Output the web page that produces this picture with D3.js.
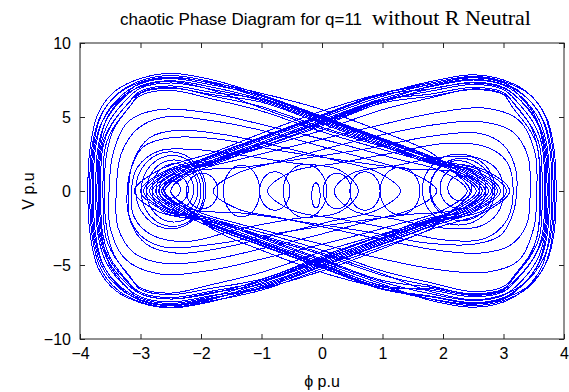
<!DOCTYPE html>
<html>
<head>
<meta charset="utf-8">
<script src="https://cdn.jsdelivr.net/npm/d3@7"></script>
<style>
  body { margin: 0; background: #fff; }
  text { fill: #000; }
</style>
</head>
<body>
<svg id="chart" width="569" height="392"></svg>
<script>
// tick values
const xTicks = [-4, -3, -2, -1, 0, 1, 2, 3, 4];
const yTicks = [-10, -5, 0, 5, 10];

// big loops round the left lobe, closing round the right well  [phi, V]
const leftOuter = [
  [[2.75,0],[2.35,-1.35],[1.8,-2.35],[1,-3.55],[0,-5.05],[-1,-6.5],[-1.8,-7.45],[-2.5,-7.9],[-3.0,-7.55],[-3.42,-6.7],[-3.7,-5.2],[-3.83,-3],[-3.87,0],[-3.83,3],[-3.7,5.25],[-3.42,6.75],[-3.0,7.6],[-2.5,7.95],[-1.8,7.5],[-1,6.5],[0,5.05],[1,3.55],[1.8,2.35],[2.35,1.35]],
  [[2.85,0],[2.45,-1.35],[1.8,-2.25],[1,-3.45],[0,-4.95],[-1,-6.4],[-1.8,-7.25],[-2.5,-7.7],[-3.0,-7.35],[-3.37,-6.5],[-3.65,-5.0],[-3.78,-3],[-3.82,0],[-3.78,3],[-3.65,5.1],[-3.37,6.6],[-3.0,7.45],[-2.5,7.8],[-1.8,7.35],[-1,6.4],[0,4.95],[1,3.45],[1.8,2.25],[2.45,1.35]],
  [[2.65,0],[2.25,-1.35],[1.8,-2.05],[1,-3.25],[0,-4.75],[-1,-6.2],[-1.8,-7.3],[-2.5,-7.75],[-3.0,-7.4],[-3.33,-6.55],[-3.61,-5.05],[-3.74,-3],[-3.78,0],[-3.74,3],[-3.61,4.9],[-3.33,6.4],[-3.0,7.25],[-2.5,7.6],[-1.8,7.15],[-1,6.45],[0,5.0],[1,3.5],[1.8,2.3],[2.25,1.35]],
  [[2.95,0],[2.55,-1.35],[1.8,-2.4],[1,-3.6],[0,-5.1],[-1,-6.55],[-1.8,-7.05],[-2.5,-7.5],[-3.0,-7.15],[-3.29,-6.3],[-3.57,-4.8],[-3.7,-3],[-3.74,0],[-3.7,3],[-3.57,4.75],[-3.29,6.25],[-3.0,7.1],[-2.5,7.45],[-1.8,7.0],[-1,6.2],[0,4.75],[1,3.25],[1.8,2.05],[2.55,1.35]],
  [[2.7,0],[2.3,-1.35],[1.8,-1.95],[1,-3.15],[0,-4.65],[-1,-6.1],[-1.8,-6.75],[-2.5,-7.2],[-3.0,-6.85],[-3.25,-6.0],[-3.53,-4.5],[-3.66,-3],[-3.7,0],[-3.66,3],[-3.53,4.6],[-3.25,6.1],[-3.0,6.95],[-2.5,7.3],[-1.8,6.85],[-1,6.1],[0,4.65],[1,3.15],[1.8,1.95],[2.3,1.35]],
  [[3.05,0],[2.65,-1.35],[1.8,-2.15],[1,-3.35],[0,-4.85],[-1,-6.3],[-1.8,-6.85],[-2.5,-7.3],[-3.0,-6.95],[-3.21,-6.1],[-3.49,-4.6],[-3.62,-3],[-3.66,0],[-3.62,3],[-3.49,4.4],[-3.21,5.9],[-3.0,6.75],[-2.5,7.1],[-1.8,6.65],[-1,6.2],[0,4.9],[1,3.4],[1.8,2.2],[2.65,1.35]],
  [[2.8,0],[2.4,-1.35],[1.8,-1.8],[1,-3.0],[0,-4.5],[-1,-5.95],[-1.8,-6.55],[-2.5,-7.0],[-3.0,-6.65],[-3.17,-5.8],[-3.45,-4.3],[-3.58,-3],[-3.62,0],[-3.58,3],[-3.45,4.25],[-3.17,5.75],[-3.0,6.6],[-2.5,6.95],[-1.8,6.5],[-1,6.0],[0,4.55],[1,3.05],[1.8,1.85],[2.4,1.35]],
  [[2.55,0],[2.15,-1.35],[1.8,-2.55],[1,-3.75],[0,-5.25],[-1,-6.7],[-1.8,-7.4],[-2.5,-7.85],[-3.0,-7.5],[-3.39,-6.65],[-3.67,-5.15],[-3.8,-3],[-3.84,0],[-3.8,3],[-3.67,5.0],[-3.39,6.5],[-3.0,7.35],[-2.5,7.7],[-1.8,7.25],[-1,6.3],[0,4.85],[1,3.35],[1.8,2.15],[2.15,1.35]],
  [[2.6,0],[2.2,-1.3],[1.8,-1.9],[1,-2.9],[0,-4.1],[-1,-5.5],[-1.8,-6.3],[-2.5,-6.9],[-3.0,-6.55],[-3.2,-5.7],[-3.45,-4.2],[-3.56,-2.5],[-3.6,0],[-3.56,2.5],[-3.45,4.1],[-3.2,5.6],[-3.0,6.45],[-2.5,6.8],[-1.8,6.2],[-1,5.4],[0,4.0],[1,2.8],[1.8,1.9],[2.2,1.3]],
  [[2.9,0],[2.5,-1.35],[1.8,-2.1],[1,-3.2],[0,-4.6],[-1,-6.1],[-1.8,-7.1],[-2.5,-7.6],[-3.0,-7.25],[-3.35,-6.4],[-3.63,-4.9],[-3.76,-3],[-3.8,0],[-3.76,3],[-3.63,4.7],[-3.35,6.2],[-3.0,7.05],[-2.5,7.4],[-1.8,6.8],[-1,5.6],[0,4.2],[1,3.0],[1.8,2.0],[2.5,1.35]],
  [[2.45,0],[2.15,-1.3],[1.8,-2.0],[1,-3.0],[0,-4.4],[-1,-6.0],[-1.8,-6.9],[-2.5,-7.3],[-3.0,-6.95],[-3.27,-6.1],[-3.55,-4.6],[-3.68,-3],[-3.72,0],[-3.68,3],[-3.55,4.95],[-3.27,6.45],[-3.0,7.3],[-2.5,7.65],[-1.8,7.3],[-1,6.6],[0,5.5],[1,4.0],[1.8,2.6],[2.15,1.4]],
  [[3.1,0],[2.7,-1.4],[1.8,-2.6],[1,-3.9],[0,-5.4],[-1,-6.6],[-1.8,-7.2],[-2.5,-7.7],[-3.0,-7.35],[-3.23,-6.5],[-3.51,-5.0],[-3.64,-3],[-3.68,0],[-3.64,3],[-3.51,4.3],[-3.23,5.8],[-3.0,6.65],[-2.5,7.0],[-1.8,6.4],[-1,5.7],[0,4.3],[1,3.1],[1.8,2.1],[2.7,1.4]]
];

// big loops round the right lobe, closing round the left well
const rightOuter = [
  [[-2.3,1.35],[-1.8,2.4],[-1,3.6],[0,5.1],[1,6.55],[1.8,7.4],[2.5,7.85],[3.0,7.5],[3.4,6.65],[3.68,5.15],[3.81,3],[3.85,0],[3.81,-3],[3.68,-5.05],[3.4,-6.55],[3.0,-7.4],[2.5,-7.75],[1.8,-7.3],[1,-6.45],[0,-5.0],[-1,-3.5],[-1.8,-2.3],[-2.3,-1.35],[-2.7,0]],
  [[-2.5,1.35],[-1.8,2.25],[-1,3.45],[0,4.95],[1,6.4],[1.8,7.2],[2.5,7.65],[3.0,7.3],[3.35,6.45],[3.63,4.95],[3.76,3],[3.8,0],[3.76,-3],[3.63,-5.15],[3.35,-6.65],[3.0,-7.5],[2.5,-7.85],[1.8,-7.4],[1,-6.3],[0,-4.85],[-1,-3.35],[-1.8,-2.15],[-2.5,-1.35],[-2.9,0]],
  [[-2.2,1.35],[-1.8,2.1],[-1,3.3],[0,4.8],[1,6.25],[1.8,7.05],[2.5,7.5],[3.0,7.15],[3.31,6.3],[3.59,4.8],[3.72,3],[3.76,0],[3.72,-3],[3.59,-4.85],[3.31,-6.35],[3.0,-7.2],[2.5,-7.55],[1.8,-7.1],[1,-6.6],[0,-5.15],[-1,-3.65],[-1.8,-2.45],[-2.2,-1.35],[-2.6,0]],
  [[-2.6,1.35],[-1.8,2.35],[-1,3.55],[0,5.05],[1,6.5],[1.8,6.9],[2.5,7.35],[3.0,7.0],[3.27,6.15],[3.55,4.65],[3.68,3],[3.72,0],[3.68,-3],[3.55,-4.7],[3.27,-6.2],[3.0,-7.05],[2.5,-7.4],[1.8,-6.95],[1,-6.15],[0,-4.7],[-1,-3.2],[-1.8,-2.0],[-2.6,-1.35],[-3.0,0]],
  [[-2.35,1.35],[-1.8,1.95],[-1,3.15],[0,4.65],[1,6.1],[1.8,6.75],[2.5,7.2],[3.0,6.85],[3.23,6.0],[3.51,4.5],[3.64,3],[3.68,0],[3.64,-3],[3.51,-4.45],[3.23,-5.95],[3.0,-6.8],[2.5,-7.15],[1.8,-6.7],[1,-6.4],[0,-4.95],[-1,-3.45],[-1.8,-2.25],[-2.35,-1.35],[-2.75,0]],
  [[-2.45,1.35],[-1.8,2.0],[-1,3.2],[0,4.7],[1,6.15],[1.8,6.55],[2.5,7.0],[3.0,6.65],[3.19,5.8],[3.47,4.3],[3.6,3],[3.64,0],[3.6,-3],[3.47,-4.25],[3.19,-5.75],[3.0,-6.6],[2.5,-6.95],[1.8,-6.5],[1,-6.05],[0,-4.6],[-1,-3.1],[-1.8,-1.9],[-2.45,-1.35],[-2.85,0]],
  [[-2.25,1.35],[-1.8,1.8],[-1,3.0],[0,4.5],[1,5.95],[1.8,6.4],[2.5,6.85],[3.0,6.5],[3.15,5.65],[3.43,4.15],[3.56,3],[3.6,0],[3.56,-3],[3.43,-4.35],[3.15,-5.85],[3.0,-6.7],[2.5,-7.05],[1.8,-6.6],[1,-6.5],[0,-5.05],[-1,-3.55],[-1.8,-2.35],[-2.25,-1.35],[-2.65,0]],
  [[-2.4,1.35],[-1.8,2.45],[-1,3.65],[0,5.15],[1,6.6],[1.8,7.3],[2.5,7.75],[3.0,7.4],[3.42,6.55],[3.7,5.05],[3.83,3],[3.87,0],[3.83,-3],[3.7,-4.9],[3.42,-6.4],[3.0,-7.25],[2.5,-7.6],[1.8,-7.15],[1,-6.65],[0,-5.2],[-1,-3.7],[-1.8,-2.5],[-2.4,-1.35],[-2.8,0]],
  [[-2.2,1.3],[-1.8,1.9],[-1,2.9],[0,4.1],[1,5.5],[1.8,6.3],[2.5,6.9],[3.0,6.55],[3.22,5.7],[3.47,4.2],[3.58,2.5],[3.62,0],[3.58,-2.5],[3.47,-4.1],[3.22,-5.6],[3.0,-6.45],[2.5,-6.8],[1.8,-6.2],[1,-5.4],[0,-4.0],[-1,-2.8],[-1.8,-1.9],[-2.2,-1.3],[-2.6,0]],
  [[-2.55,1.35],[-1.8,2.1],[-1,3.2],[0,4.6],[1,6.1],[1.8,7.1],[2.5,7.55],[3.0,7.2],[3.37,6.35],[3.65,4.85],[3.78,3],[3.82,0],[3.78,-3],[3.65,-4.65],[3.37,-6.15],[3.0,-7.0],[2.5,-7.35],[1.8,-6.8],[1,-5.6],[0,-4.2],[-1,-3.0],[-1.8,-2.0],[-2.55,-1.35],[-2.95,0]],
  [[-2.15,1.4],[-1.8,2.0],[-1,3.0],[0,4.4],[1,6.0],[1.8,6.9],[2.5,7.3],[3.0,6.95],[3.29,6.1],[3.57,4.6],[3.7,3],[3.74,0],[3.7,-3],[3.57,-4.95],[3.29,-6.45],[3.0,-7.3],[2.5,-7.65],[1.8,-7.3],[1,-6.6],[0,-5.5],[-1,-4.0],[-1.8,-2.6],[-2.15,-1.4],[-2.5,0]],
  [[-2.7,1.4],[-1.8,2.6],[-1,3.9],[0,5.4],[1,6.6],[1.8,7.2],[2.5,7.7],[3.0,7.35],[3.25,6.5],[3.53,5.0],[3.66,3],[3.7,0],[3.66,-3],[3.53,-4.3],[3.25,-5.8],[3.0,-6.65],[2.5,-7.0],[1.8,-6.4],[1,-5.7],[0,-4.3],[-1,-3.1],[-1.8,-2.1],[-2.7,-1.4],[-3.1,0]]
];

// middle-sized loops
const leftInner = [
  [[1.9,0],[1.5,-1.2],[0.8,-2.0],[0,-2.9],[-1,-3.9],[-1.9,-4.7],[-2.6,-4.9],[-3.1,-4.2],[-3.37,-2.5],[-3.4,0],[-3.32,2.5],[-3.05,4.2],[-2.6,5.0],[-1.9,4.8],[-1,4.1],[0,3.0],[0.8,2.1],[1.5,1.2]],
  [[1.3,0],[0.9,-1.3],[0.2,-2.0],[-0.7,-2.9],[-1.6,-3.8],[-2.4,-4.2],[-2.9,-3.6],[-3.17,-2],[-3.2,0],[-3.12,2],[-2.85,3.6],[-2.4,4.1],[-1.6,3.8],[-0.7,3.0],[0.2,2.1],[0.9,1.3]],
  [[0.6,0],[0.3,-1.4],[-0.5,-1.9],[-1.4,-2.6],[-2.2,-3.4],[-2.8,-3.0],[-3.1,-1.8],[-3.15,0],[-3.05,1.6],[-2.7,2.7],[-2.1,2.8],[-1.3,2.4],[-0.5,1.9],[0.3,1.4]],
  [[2.4,0],[2.0,-1.3],[1.2,-2.3],[0.2,-3.4],[-0.9,-4.5],[-1.9,-5.4],[-2.7,-5.6],[-3.25,-4.6],[-3.5,-2.5],[-3.52,0],[-3.45,2.6],[-3.2,4.7],[-2.7,5.5],[-1.9,5.3],[-0.9,4.4],[0.2,3.3],[1.2,2.2],[2.0,1.3]],
  [[2.7,0],[2.3,-1.2],[1.4,-1.6],[0.3,-2.2],[-0.8,-2.9],[-1.8,-3.6],[-2.6,-3.8],[-3.0,-3.0],[-3.2,-1.5],[-3.22,0],[-3.15,1.6],[-2.95,3.0],[-2.5,3.6],[-1.7,3.5],[-0.8,2.8],[0.3,2.1],[1.4,1.5],[2.3,1.2]]
];
const rightInner = [
  [[-1.4,1.2],[-0.7,2.0],[0.1,2.9],[1.0,3.8],[1.9,4.5],[2.6,4.7],[3.15,4.0],[3.4,2.4],[3.44,0],[3.38,-2.3],[3.1,-3.7],[2.6,-4.2],[1.9,-4.0],[1.0,-3.3],[0.1,-2.5],[-0.7,-1.8],[-1.4,-1.2],[-1.8,0]],
  [[-0.5,1.3],[0.3,1.9],[1.2,2.6],[2.0,3.2],[2.7,3.0],[3.05,2.0],[3.16,0],[3.05,-2.0],[2.7,-3.2],[2.0,-3.3],[1.2,-2.6],[0.3,-1.9],[-0.5,-1.3],[-0.9,0]],
  [[0.5,1.2],[1.2,1.7],[2.0,2.3],[2.6,2.2],[2.9,1.4],[3.0,0],[2.9,-1.5],[2.6,-2.4],[2.0,-2.5],[1.2,-1.9],[0.5,-1.3],[0.2,0]],
  [[-2.1,1.3],[-1.3,2.2],[-0.2,3.3],[0.9,4.4],[1.9,5.3],[2.7,5.6],[3.25,4.8],[3.52,2.6],[3.55,0],[3.5,-2.5],[3.25,-4.7],[2.7,-5.5],[1.9,-5.3],[0.9,-4.5],[-0.2,-3.4],[-1.3,-2.3],[-2.1,-1.3],[-2.5,0]],
  [[-2.2,1.25],[-1.3,1.6],[-0.3,2.2],[0.8,2.9],[1.8,3.7],[2.6,3.9],[3.0,3.1],[3.2,1.5],[3.22,0],[3.15,-1.6],[2.95,-3.0],[2.5,-3.6],[1.7,-3.5],[0.8,-2.8],[-0.3,-2.1],[-1.3,-1.5],[-2.2,-1.2],[-2.65,0]]
];

// small turns round the two wells and along the centre line: centre and half widths
const wellLoops = [
  {cx: -2.48, cy: 0.1, rx: 0.14, ry: 0.58},
  {cx: -2.45, cy: 0.1, rx: 0.24, ry: 1.0},
  {cx: -2.43, cy: 0.1, rx: 0.31, ry: 1.4},
  {cx: -2.43, cy: 0.1, rx: 0.38, ry: 1.75},
  {cx: -2.45, cy: 0.0, rx: 0.45, ry: 2.1},
  {cx: -2.47, cy: 0.0, rx: 0.52, ry: 2.4},
  {cx: -2.5, cy: 0.05, rx: 0.58, ry: 2.6},
  {cx: 2.28, cy: 0.2, rx: 0.2, ry: 0.85},
  {cx: 2.28, cy: 0.2, rx: 0.33, ry: 1.4},
  {cx: 2.25, cy: 0.15, rx: 0.46, ry: 1.9},
  {cx: 2.3, cy: 0.1, rx: 0.52, ry: 2.1},
  {cx: 2.26, cy: 0.1, rx: 0.6, ry: 2.4}
];
const centreLoops = [
  {cx: -1.98, cy: 0.0, rx: 0.26, ry: 1.2},
  {cx: -1.33, cy: 0.0, rx: 0.3, ry: 1.75},
  {cx: -0.78, cy: 0.0, rx: 0.25, ry: 1.3},
  {cx: -0.28, cy: 0.0, rx: 0.36, ry: 1.8},
  {cx: -0.1, cy: -0.3, rx: 0.07, ry: 0.85},
  {cx: 0.25, cy: 0.0, rx: 0.23, ry: 1.2},
  {cx: 0.71, cy: 0.0, rx: 0.25, ry: 1.3},
  {cx: 1.29, cy: 0.0, rx: 0.33, ry: 1.6}
];

const svg = d3.select('#chart');
const plotLeft = 80, plotRight = 564, plotTop = 43, plotBottom = 339;

const x = d3.scaleLinear().domain([-4, 4]).range([plotLeft, plotRight]);
const y = d3.scaleLinear().domain([-10, 10]).range([plotBottom, plotTop]);

svg.append('defs').append('clipPath').attr('id', 'plot')
  .append('rect')
  .attr('x', plotLeft).attr('y', plotTop)
  .attr('width', plotRight - plotLeft).attr('height', plotBottom - plotTop);

// matlab draws the trace without smoothing, so keep the edges hard
const plot = svg.append('g')
  .attr('clip-path', 'url(#plot)')
  .attr('shape-rendering', 'crispEdges');

const line = d3.line()
  .x(d => x(d[0]))
  .y(d => y(d[1]))
  .curve(d3.curveCatmullRomClosed.alpha(0.5));

const loops = leftOuter.concat(rightOuter, leftInner, rightInner);

plot.selectAll('path.loop')
  .data(loops).enter()
  .append('path')
  .attr('class', 'loop')
  .attr('d', line)
  .attr('fill', 'none')
  .attr('stroke', '#0000ff')
  .attr('stroke-width', 1);

plot.selectAll('ellipse.turn')
  .data(wellLoops.concat(centreLoops)).enter()
  .append('ellipse')
  .attr('class', 'turn')
  .attr('cx', d => x(d.cx))
  .attr('cy', d => y(d.cy))
  .attr('rx', d => x(d.cx + d.rx) - x(d.cx))
  .attr('ry', d => y(d.cy) - y(d.cy + d.ry))
  .attr('fill', 'none')
  .attr('stroke', '#0000ff')
  .attr('stroke-width', 1);

// box with inward ticks on all four sides
const font = '"Liberation Sans", Arial, sans-serif';

function styleAxis(g) {
  g.select('.domain').remove();
  g.selectAll('.tick line').attr('stroke', '#222');
  g.selectAll('.tick text').style('font-family', font).style('font-size', '16px').attr('fill', '#000');
}

svg.append('g')
  .attr('transform', `translate(0,${plotBottom})`)
  .call(d3.axisBottom(x).tickValues(xTicks).tickSize(-5).tickPadding(9).tickFormat(d3.format('d')))
  .call(styleAxis);

svg.append('g')
  .attr('transform', `translate(0,${plotTop})`)
  .call(d3.axisTop(x).tickValues(xTicks).tickSize(-5).tickFormat(''))
  .call(styleAxis);

svg.append('g')
  .attr('transform', `translate(${plotLeft},0)`)
  .call(d3.axisLeft(y).tickValues(yTicks).tickSize(-5).tickPadding(9).tickFormat(d3.format('d')))
  .call(styleAxis);

svg.append('g')
  .attr('transform', `translate(${plotRight},0)`)
  .call(d3.axisRight(y).tickValues(yTicks).tickSize(-5).tickFormat(''))
  .call(styleAxis);

svg.append('rect')
  .attr('x', plotLeft).attr('y', plotTop)
  .attr('width', plotRight - plotLeft).attr('height', plotBottom - plotTop)
  .attr('fill', 'none')
  .attr('stroke', '#222')
  .attr('stroke-width', 1);

// title, axis labels
const title = svg.append('text')
  .attr('x', 120).attr('y', 25);
title.append('tspan')
  .style('font-family', font).style('font-size', '17px')
  .text('chaotic Phase Diagram for q=11');
title.append('tspan')
  .attr('dx', 10)
  .style('font-family', '"Liberation Serif", "Times New Roman", serif').style('font-size', '22px')
  .text('without R Neutral');

svg.append('text')
  .attr('x', x(0)).attr('y', 387)
  .attr('text-anchor', 'middle')
  .style('font-family', font).style('font-size', '16px')
  .text('ϕ p.u');

svg.append('text')
  .attr('transform', `translate(34,${y(0)}) rotate(-90)`)
  .attr('text-anchor', 'middle')
  .style('font-family', font).style('font-size', '16px')
  .text('V p.u');
</script>
</body>
</html>
